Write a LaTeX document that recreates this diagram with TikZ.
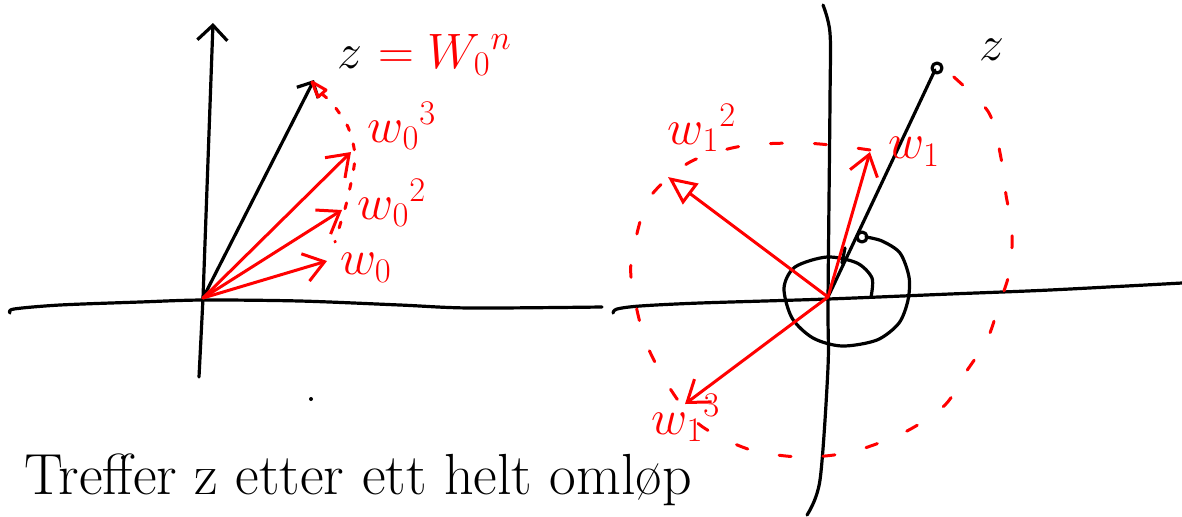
\documentclass[tikz,border=0pt]{standalone}
\usepackage{amsmath,amssymb}
\usetikzlibrary{arrows.meta}

\tikzset{
  axis/.style={black, line width=1.6pt},
  vec/.style={red, line width=1.5pt, -{Straight Barb[length=3.5mm, width=5mm]}},
  orbit/.style={red, line width=1.5pt, dash pattern=on 6pt off 16pt},
  lbl/.style={red, font=\fontsize{25}{30}\selectfont, inner sep=1pt},
  big/.style={font=\fontsize{27}{30}\selectfont},
}

\begin{document}
\begin{tikzpicture}[x=0.5pt, y=-0.5pt, line cap=round, line join=round]
	\useasboundingbox (0,0) rectangle (1182,516);
	% left plane: powers of w_0
	\coordinate (O1) at (203,298);
	\coordinate (z1) at (314,80);
	\coordinate (p1) at (327,261);
	\coordinate (p2) at (342,210);
	\coordinate (p3) at (351,152);
	\draw[axis] plot[smooth] coordinates {(10,313) (14,309) (60,305) (140,302) (203,300) (300,301) (400,305) (470,308) (602,307)};
	\draw[axis, -{Straight Barb[length=7.5pt, width=15pt]}] (199,377) -- (O1) -- (213,23);
	\draw[axis, -{Straight Barb[length=6pt, width=12pt]}] (O1) -- (z1);
	\draw[red, line width=1.5pt] (312,82) -- (326,90) -- (318,97) -- cycle;
	\draw[red, line width=1.5pt, dash pattern=on 3pt off 7pt] plot[smooth] coordinates {(322,94) (331,102) (340,114) (348,127) (353,143) (355,158) (352,178) (346,205) (340,225) (335,242)};
	\draw[vec] (O1) -- (p1);
	\draw[vec] (O1) -- (p2);
	\draw[vec] (O1) -- (p3);
	\fill (311,399) circle (2);
	\node[big, anchor=base west] (zeq) at (330,68) {$z\ {\color{red}= W_0{}^{n}}$};
	\node[lbl] (w0) at (366,268) {$w_0$};
	\node[lbl] (w02) at (392,203) {$w_0{}^2$};
	\node[lbl] (w03) at (402,126) {$w_0{}^3$};

	% right plane: powers of w_1
	\coordinate (O2) at (828,297);
	\coordinate (z2) at (935,70);
	\coordinate (q1) at (870,152);
	\coordinate (q2) at (668,177);
	\coordinate (q3) at (685,404);
	\draw[axis] plot[smooth] coordinates {(613,313) (617,309) (640,306) (700,303) (828,299) (950,294) (1050,290) (1182,283)};
	\draw[axis] plot[smooth] coordinates {(823,5) (830,33) (830,100) (828,300) (828,367) (820,480) (807,515)};
	\draw[axis] (O2) -- (z2);
	\draw[axis] (937,68) circle (5);
	\draw[axis] (845,248) -- (842,263);
	% angle turning round more than once
	\draw[axis] (862,237) circle (5);
	\draw[axis] plot[smooth] coordinates {(866,237) (882,241) (900,253) (909,277) (908,300) (899,323) (877,340) (842,346) (813,338) (792,318) (784,288) (795,267) (827,257) (857,263) (872,278) (871,297)};
	\draw[orbit] plot[smooth] coordinates {(870,150) (840,146) (800,143) (742,146) (690,162) (650,197) (635,242) (631,277) (645,340) (671,390) (700,425) (748,449) (800,457) (851,452) (905,432) (945,405) (966,372) (987,340) (999,305) (1010,270) (1012,230) (1006,195) (1001,158) (989,113) (955,78) (943,70)};
	\draw[vec] (O2) -- (q1);
	\draw[red, line width=1.5pt, -{Triangle[open, length=5mm, width=4.5mm]}] (O2) -- (q2);
	\draw[vec] (O2) -- (q3);
	\node[big] (zr) at (992,50) {$z$};
	\node[lbl] (w1) at (914,152) {$w_1$};
	\node[lbl] (w12) at (702,128) {$w_1{}^2$};
	\node[lbl] (w13) at (686,418) {$w_1{}^3$};

	\node[font=\fontsize{29}{34}\selectfont, anchor=base west, inner sep=0pt] (txt) at (24,494) {Treffer z etter ett helt omløp};
\end{tikzpicture}
\end{document}
